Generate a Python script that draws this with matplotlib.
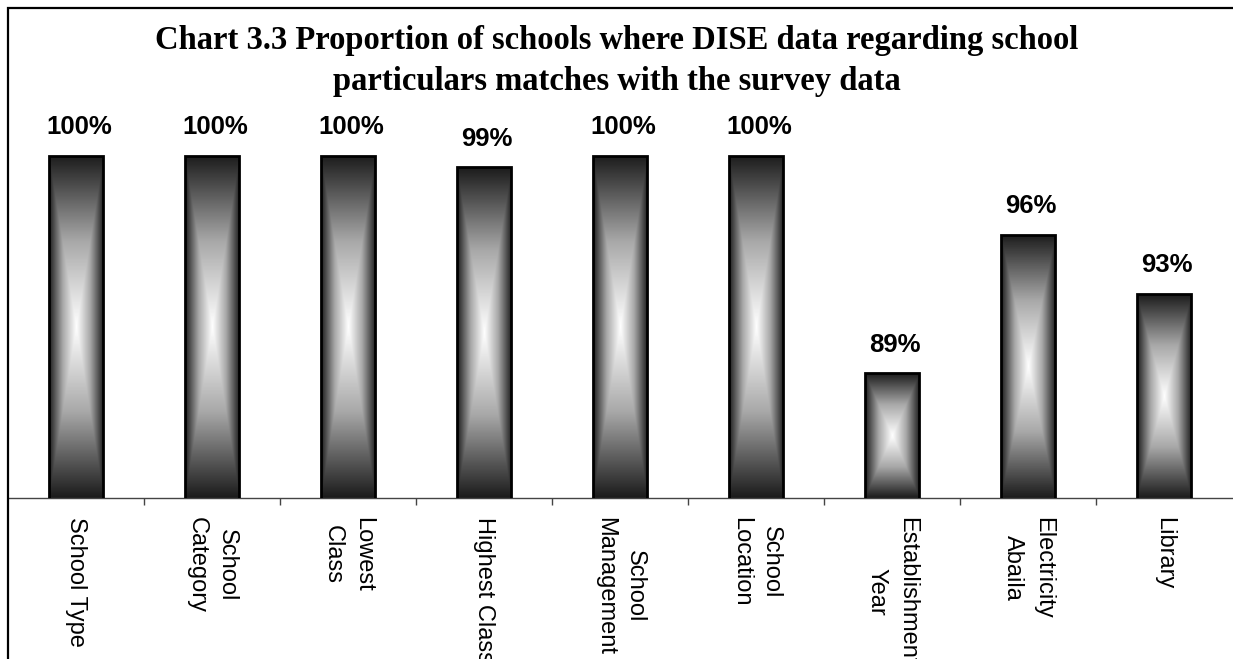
import numpy as np
import matplotlib
matplotlib.use("Agg")
import matplotlib.pyplot as plt
from matplotlib.colors import LinearSegmentedColormap
from matplotlib.patches import Rectangle

# school particulars checked against the survey
categories = ["School Type", "School\nCategory", "Lowest\nClass", "Highest Class",
              "School\nManagement", "School\nLocation", "Establishment\nYear",
              "Electricity\nAbaila", "Library"]
match_pct = [100, 100, 100, 99.4, 100, 100, 89.0, 96.0, 93.0]

title = ("Chart 3.3 Proportion of schools where DISE data regarding school\n"
         "particulars matches with the survey data")

W, H = 1233, 659
fig = plt.figure(figsize=(W / 100, H / 100), dpi=100)
fig.patch.set_facecolor("white")

# plot area in pixels: left 8, right 1232, baseline at 498
y_lo, y_hi = 82.7, 102
ax = fig.add_axes([8 / W, (H - 498) / H, 1224 / W, 382 / H])
ax.set_xlim(-0.5, len(categories) - 0.5)
ax.set_ylim(y_lo, y_hi)

# grey gradient: dark at the edges, white in the middle of each bar
gray = LinearSegmentedColormap.from_list("barfill", ["#ffffff", "#a8a8a8", "#1c1c1c"])
n = 301
u = np.linspace(-1, 1, n)
uu, vv = np.meshgrid(u, u)
shade = np.maximum(np.abs(uu), np.abs(vv))

x = np.arange(len(categories))
bar_w = 0.40
bars = ax.bar(x, match_pct, width=bar_w, color="none", edgecolor="black",
              linewidth=2.0, zorder=3)
for b, v in zip(bars, match_pct):
    x0 = b.get_x()
    im = ax.imshow(shade, cmap=gray, vmin=0, vmax=1, aspect="auto",
                   extent=(x0, x0 + bar_w, y_lo, v), zorder=2,
                   interpolation="bilinear")
    im.set_clip_path(b)
    ax.annotate(f"{v:.0f}%", (b.get_x() + bar_w / 2, v), xytext=(2, 12),
                textcoords="offset points", ha="center", va="bottom",
                fontsize=18.5, fontweight="bold", family=["Liberation Sans"])
ax.set_xlim(-0.5, len(categories) - 0.5)
ax.set_ylim(y_lo, y_hi)

# category labels under the bars, tick marks between them
ax.set_xticks(x)
ax.set_xticklabels(categories, rotation=-90, ha="center", va="top",
                   multialignment="center", fontsize=17, linespacing=1.5,
                   family=["Liberation Sans"])
ax.tick_params(axis="x", which="major", length=0, pad=14)
ax.set_xticks(np.arange(0.5, len(categories) - 0.5, 1), minor=True)
ax.tick_params(axis="x", which="minor", length=5, width=1, color="#444444",
               direction="out")
ax.set_yticks([])
for s in ["top", "right", "left"]:
    ax.spines[s].set_visible(False)
ax.spines["bottom"].set_color("#444444")
ax.spines["bottom"].set_linewidth(1)
ax.set_facecolor("none")

fig.text(0.5, 1 - 61 / H, title, ha="center", va="center", fontsize=23.5,
         fontweight="bold", family=["Liberation Serif"], linespacing=1.4)

# chart border
fig.patches.append(Rectangle((8 / W, -0.2), 1.5, 1.2 - 8 / H,
                             transform=fig.transFigure, fill=False,
                             edgecolor="black", linewidth=1.6))

fig.savefig("out.png", dpi=100)
